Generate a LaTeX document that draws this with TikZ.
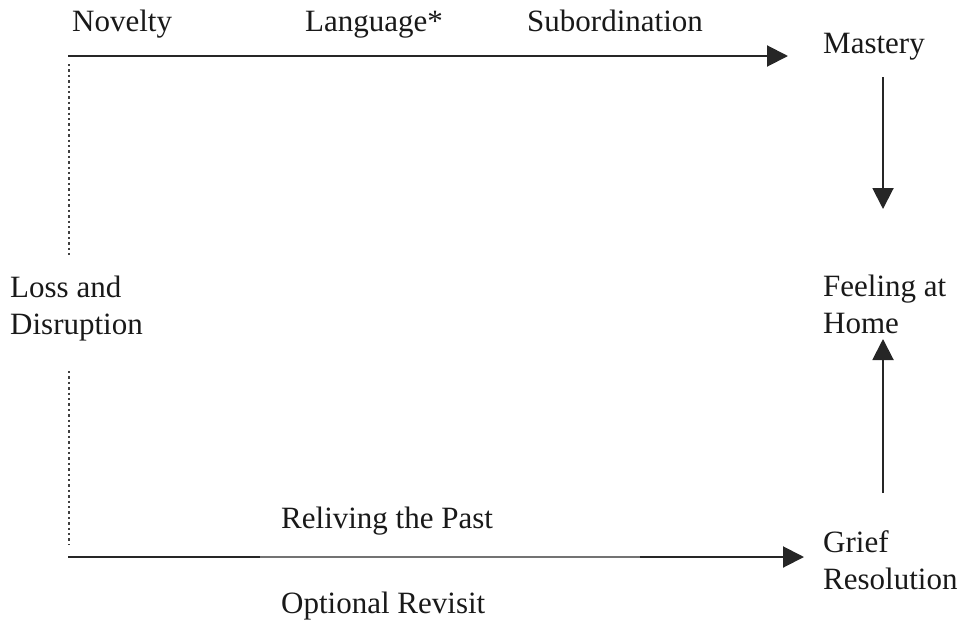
\documentclass[tikz,border=0pt]{standalone}
\usepackage{fontspec}
\setmainfont{Liberation Serif}
\usetikzlibrary{arrows.meta}
\begin{document}
\begin{tikzpicture}[x=1pt,y=-1pt,
  lbl/.style={anchor=base west, inner sep=0pt, align=left,
    font=\fontsize{31}{37}\selectfont, text=black!90},
  flow/.style={draw=black!85, line width=2pt},
  tip/.style={-{Triangle[length=21pt,width=21pt]}},
  thin/.style={draw=black!55, line width=1.6pt},
  dots/.style={draw=black!75, line width=2.6pt, dash pattern=on 2.4pt off 3pt}]
\useasboundingbox (0,0) rectangle (966,627);

% labels (multi-line nodes sit on the baseline of their last line)
\node[lbl] (novelty)  at (72,31)   {Novelty};
\node[lbl] (language) at (305,31)  {Language*};
\node[lbl] (subord)   at (527,31)  {Subordination};
\node[lbl] (mastery)  at (823,53)  {Mastery};
\node[lbl] (home)     at (823,333) {Feeling at\\Home};
\node[lbl] (loss)     at (10,334)  {Loss and\\Disruption};
\node[lbl] (reliving) at (281,528) {Reliving the Past};
\node[lbl] (revisit)  at (281,613) {Optional Revisit};
\node[lbl] (grief)    at (823,589) {Grief\\Resolution};

% anchor points of the connectors
\coordinate (tl) at (68,56);
\coordinate (tr) at (788,56);
\coordinate (dtop) at (69,64);
\coordinate (dmid) at (69,255);
\coordinate (dlow) at (69,371);
\coordinate (dbot) at (69,545);
\coordinate (bl) at (68,557);
\coordinate (b1) at (260,557);
\coordinate (b2) at (640,557);
\coordinate (br) at (804,557);
\coordinate (m1) at (883,77);
\coordinate (m2) at (883,209);
\coordinate (g1) at (883,493);
\coordinate (g2) at (883,339);

% top path towards mastery
\draw[flow,tip] (tl) -- (tr);
% dotted left edge
\draw[dots] (dtop) -- (dmid);
\draw[dots] (dlow) -- (dbot);
% bottom path towards grief resolution
\draw[flow] (bl) -- (b1);
\draw[thin] (b1) -- (b2);
\draw[flow,tip] (b2) -- (br);
% vertical arrows into feeling at home
\draw[flow,tip] (m1) -- (m2);
\draw[flow,tip] (g1) -- (g2);
\end{tikzpicture}
\end{document}
